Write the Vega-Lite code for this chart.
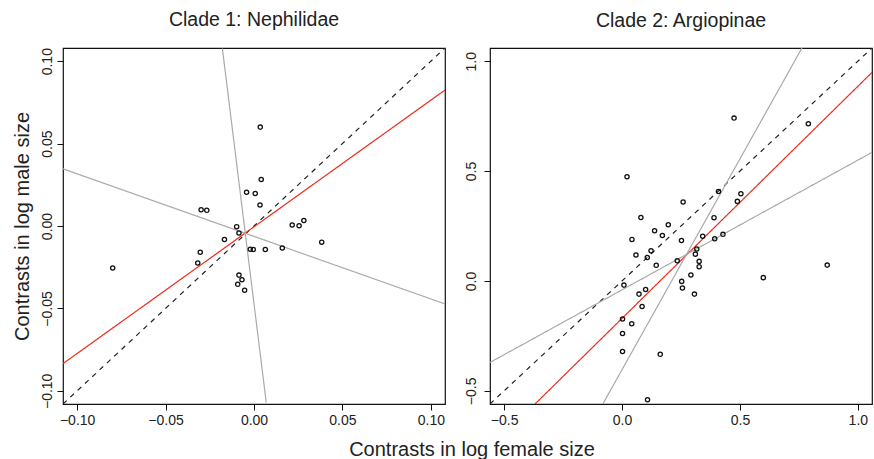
{
  "$schema": "https://vega.github.io/schema/vega-lite/v6.json",
  "autosize": "pad",
  "padding": {"left": 11, "top": 9, "right": 0, "bottom": 3},
  "background": "white",
  "config": {
    "font": "Liberation Sans",
    "view": {"stroke": "#111", "strokeWidth": 1.2},
    "axis": {
      "grid": false, "domain": false, "ticks": true, "tickSize": 6, "tickColor": "#111", "tickWidth": 1,
      "labelFont": "Liberation Sans", "labelFontSize": 14, "labelColor": "#222", "labelPadding": 3,
      "titleFont": "Liberation Sans", "titleFontSize": 20, "titleFontWeight": "normal", "titleColor": "#222"
    },
    "title": {"font": "Liberation Sans", "fontSize": 19.5, "fontWeight": "normal", "color": "#222", "offset": 17}
  },
  "title": {"text": "Contrasts in log female size", "orient": "bottom", "anchor": "middle", "fontSize": 20, "offset": 12, "dx": 30},
  "datasets": {
    "nep_points": [
      {"female": 0.00355, "male": 0.0600},
      {"female": 0.0041, "male": 0.0282},
      {"female": -0.0042, "male": 0.0205},
      {"female": 0.0007, "male": 0.0197},
      {"female": 0.0034, "male": 0.0127},
      {"female": -0.0299, "male": 0.0099},
      {"female": -0.0267, "male": 0.0095},
      {"female": 0.0216, "male": 0.0006},
      {"female": 0.0255, "male": 0.0002},
      {"female": 0.0282, "male": 0.0033},
      {"female": -0.0098, "male": -0.0004},
      {"female": -0.0085, "male": -0.0042},
      {"female": -0.0167, "male": -0.0082},
      {"female": 0.0383, "male": -0.0098},
      {"female": -0.0304, "male": -0.0159},
      {"female": -0.0318, "male": -0.0225},
      {"female": -0.0021, "male": -0.0141},
      {"female": -0.0004, "male": -0.0143},
      {"female": 0.0064, "male": -0.0143},
      {"female": 0.0160, "male": -0.0133},
      {"female": -0.0085, "male": -0.0298},
      {"female": -0.0068, "male": -0.0326},
      {"female": -0.0092, "male": -0.0354},
      {"female": -0.0053, "male": -0.0390},
      {"female": -0.0799, "male": -0.0255}
    ],
    "nep_lines": [
      {"line": "isometry", "female": -0.108, "male": -0.108},
      {"line": "isometry", "female": 0.108, "male": 0.108},
      {"line": "fit", "female": -0.108, "male": -0.0835},
      {"line": "fit", "female": 0.108, "male": 0.0825},
      {"line": "ci1", "female": -0.01787, "male": 0.1077},
      {"line": "ci1", "female": 0.00693, "male": -0.1072},
      {"line": "ci2", "female": -0.108, "male": 0.0347},
      {"line": "ci2", "female": 0.108, "male": -0.0473}
    ],
    "arg_points": [
      {"female": 0.475, "male": 0.741},
      {"female": 0.790, "male": 0.715},
      {"female": 0.021, "male": 0.474},
      {"female": 0.409, "male": 0.407},
      {"female": 0.504, "male": 0.397},
      {"female": 0.489, "male": 0.362},
      {"female": 0.259, "male": 0.359},
      {"female": 0.080, "male": 0.289},
      {"female": 0.390, "male": 0.288},
      {"female": 0.196, "male": 0.256},
      {"female": 0.138, "male": 0.228},
      {"female": 0.171, "male": 0.207},
      {"female": 0.252, "male": 0.184},
      {"female": 0.342, "male": 0.203},
      {"female": 0.393, "male": 0.192},
      {"female": 0.428, "male": 0.212},
      {"female": 0.042, "male": 0.189},
      {"female": 0.123, "male": 0.137},
      {"female": 0.059, "male": 0.118},
      {"female": 0.107, "male": 0.107},
      {"female": 0.145, "male": 0.071},
      {"female": 0.317, "male": 0.145},
      {"female": 0.311, "male": 0.122},
      {"female": 0.234, "male": 0.092},
      {"female": 0.327, "male": 0.089},
      {"female": 0.327, "male": 0.065},
      {"female": 0.292, "male": 0.027},
      {"female": 0.870, "male": 0.072},
      {"female": 0.599, "male": 0.015},
      {"female": 0.008, "male": -0.019},
      {"female": 0.253, "male": -0.002},
      {"female": 0.256, "male": -0.032},
      {"female": 0.100, "male": -0.039},
      {"female": 0.072, "male": -0.060},
      {"female": 0.307, "male": -0.060},
      {"female": 0.085, "male": -0.116},
      {"female": 0.002, "male": -0.173},
      {"female": 0.041, "male": -0.195},
      {"female": 0.002, "male": -0.239},
      {"female": 0.002, "male": -0.321},
      {"female": 0.162, "male": -0.334},
      {"female": 0.108, "male": -0.541}
    ],
    "arg_lines": [
      {"line": "isometry", "female": -0.56, "male": -0.56},
      {"line": "isometry", "female": 1.06, "male": 1.06},
      {"line": "fit", "female": -0.369, "male": -0.56},
      {"line": "fit", "female": 1.06, "male": 0.949},
      {"line": "ci1", "female": -0.0815, "male": -0.56},
      {"line": "ci1", "female": 0.763, "male": 1.06},
      {"line": "ci2", "female": -0.56, "male": -0.371},
      {"line": "ci2", "female": 1.06, "male": 0.585}
    ]
  },
  "hconcat": [
    {
      "width": 382, "height": 356,
      "title": "Clade 1: Nephilidae",
      "layer": [
        {
          "data": {"name": "nep_lines"},
          "mark": {"type": "line", "clip": true, "strokeWidth": 1.2},
          "encoding": {
            "x": {"field": "female", "type": "quantitative", "scale": {"domain": [-0.108, 0.108], "nice": false, "zero": false},
                  "axis": {"values": [-0.1, -0.05, 0, 0.05, 0.1], "format": ".2f", "title": null}},
            "y": {"field": "male", "type": "quantitative", "scale": {"domain": [-0.108, 0.108], "nice": false, "zero": false},
                  "axis": {"values": [-0.1, -0.05, 0, 0.05, 0.1], "format": ".2f", "labelAngle": -90, "labelAlign": "center", "labelBaseline": "bottom", "title": "Contrasts in log male size", "titlePadding": 8}},
            "detail": {"field": "line"},
            "color": {"field": "line", "type": "nominal", "scale": {"domain": ["isometry", "fit", "ci1", "ci2"], "range": ["#222222", "#ee2a1b", "#aaaaaa", "#aaaaaa"]}, "legend": null},
            "strokeDash": {"field": "line", "type": "nominal", "scale": {"domain": ["isometry", "fit", "ci1", "ci2"], "range": [[5, 5], [1, 0], [1, 0], [1, 0]]}, "legend": null}
          }
        },
        {
          "data": {"name": "nep_points"},
          "mark": {"type": "point", "shape": "circle", "filled": false, "size": 18, "strokeWidth": 1.3, "color": "#111", "opacity": 1},
          "encoding": {
            "x": {"field": "female", "type": "quantitative"},
            "y": {"field": "male", "type": "quantitative"}
          }
        }
      ]
    },
    {
      "width": 382, "height": 356,
      "title": "Clade 2: Argiopinae",
      "layer": [
        {
          "data": {"name": "arg_lines"},
          "mark": {"type": "line", "clip": true, "strokeWidth": 1.2},
          "encoding": {
            "x": {"field": "female", "type": "quantitative", "scale": {"domain": [-0.56, 1.06], "nice": false, "zero": false},
                  "axis": {"values": [-0.5, 0, 0.5, 1.0], "format": ".1f", "title": null}},
            "y": {"field": "male", "type": "quantitative", "scale": {"domain": [-0.56, 1.06], "nice": false, "zero": false},
                  "axis": {"values": [-0.5, 0, 0.5, 1.0], "format": ".1f", "labelAngle": -90, "labelAlign": "center", "labelBaseline": "bottom", "labelPadding": 6, "title": null}},
            "detail": {"field": "line"},
            "color": {"field": "line", "type": "nominal", "scale": {"domain": ["isometry", "fit", "ci1", "ci2"], "range": ["#222222", "#ee2a1b", "#aaaaaa", "#aaaaaa"]}, "legend": null},
            "strokeDash": {"field": "line", "type": "nominal", "scale": {"domain": ["isometry", "fit", "ci1", "ci2"], "range": [[5, 5], [1, 0], [1, 0], [1, 0]]}, "legend": null}
          }
        },
        {
          "data": {"name": "arg_points"},
          "mark": {"type": "point", "shape": "circle", "filled": false, "size": 18, "strokeWidth": 1.3, "color": "#111", "opacity": 1},
          "encoding": {
            "x": {"field": "female", "type": "quantitative"},
            "y": {"field": "male", "type": "quantitative"}
          }
        }
      ]
    }
  ],
  "spacing": 17
}
